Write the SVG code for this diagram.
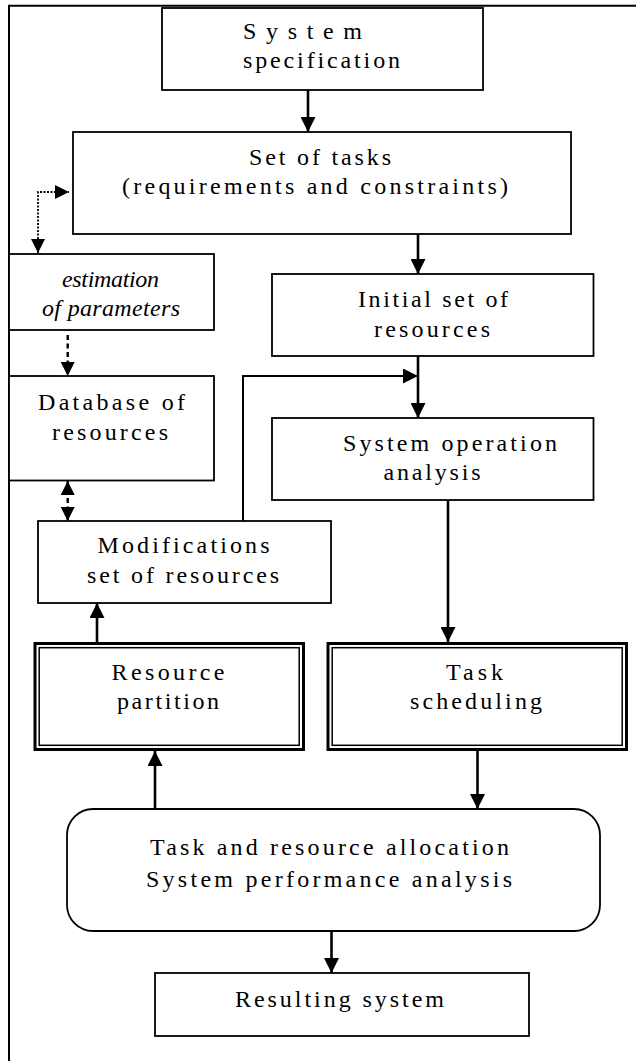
<svg xmlns="http://www.w3.org/2000/svg" width="636" height="1061" viewBox="0 0 636 1061">
<style>
  .box{fill:#fff;stroke:#000;stroke-width:1.8}
  .thick{fill:#fff;stroke:#000;stroke-width:3}
  .thin{fill:none;stroke:#000;stroke-width:1.5}
  .t{font-family:"Liberation Serif","Times New Roman",serif;font-size:24px;fill:#000}
  .i{font-style:italic}
  .c{fill:none;stroke:#000;stroke-width:2.6}
  .c2{fill:none;stroke:#000;stroke-width:2}
  .dot{fill:none;stroke:#000;stroke-width:1.8;stroke-dasharray:2 1.5}
  .dash{fill:none;stroke:#000;stroke-width:2.4;stroke-dasharray:5 3.5}
</style>
<defs>
  <marker id="ah" viewBox="0 0 10 10" refX="10" refY="5" markerUnits="userSpaceOnUse" markerWidth="15" markerHeight="15" orient="auto-start-reverse">
    <path d="M0,0 L10,5 L0,10 Z" fill="#000"/>
  </marker>
  <marker id="ahs" viewBox="0 0 10 10" refX="10" refY="5" markerUnits="userSpaceOnUse" markerWidth="14" markerHeight="19" orient="auto-start-reverse">
    <path d="M0,0 L10,5 L0,10 Z" fill="#000"/>
  </marker>
</defs>
<rect width="636" height="1061" fill="#fff"/>
<g id="frame">
  <line x1="8" y1="5.7" x2="636" y2="5.7" stroke="#000" stroke-width="2"/>
  <line x1="9" y1="5" x2="9" y2="1061" stroke="#000" stroke-width="2"/>
</g>
<g id="connectors">
  <line class="c" x1="308" y1="90" x2="308" y2="132" marker-end="url(#ah)"/>
  <line class="c" x1="418" y1="234" x2="418" y2="274" marker-end="url(#ah)"/>
  <line class="c" x1="418" y1="356" x2="418" y2="418" marker-end="url(#ah)"/>
  <polyline class="c2" points="243,521 243,376 418,376" marker-end="url(#ah)"/>
  <line class="c" x1="448" y1="500" x2="448" y2="642" marker-end="url(#ah)"/>
  <line class="c" x1="97" y1="642" x2="97" y2="603" marker-end="url(#ah)"/>
  <line class="c" x1="477.5" y1="751" x2="477.5" y2="809" marker-end="url(#ah)"/>
  <line class="c" x1="155" y1="809" x2="155" y2="751" marker-end="url(#ah)"/>
  <line class="c" x1="331.5" y1="931" x2="331.5" y2="973" marker-end="url(#ah)"/>
  <polyline class="dot" points="38,253 38,192 69,192" marker-start="url(#ahs)" marker-end="url(#ahs)"/>
  <line class="dash" x1="67.7" y1="335" x2="67.7" y2="376" marker-end="url(#ahs)"/>
  <line class="dash" x1="67.7" y1="481" x2="67.7" y2="521" marker-start="url(#ahs)" marker-end="url(#ahs)"/>
</g>
<g id="n-spec">
  <rect class="box" x="162" y="8" width="321" height="82"/>
  <text class="t" x="243" y="39" textLength="119" lengthAdjust="spacing">System</text>
  <text class="t" x="243" y="68" textLength="157" lengthAdjust="spacing">specification</text>
</g>
<g id="n-tasks">
  <rect class="box" x="73" y="132" width="498" height="102"/>
  <text class="t" x="249" y="165" textLength="142" lengthAdjust="spacing">Set of tasks</text>
  <text class="t" x="122" y="194" textLength="386" lengthAdjust="spacing">(requirements and constraints)</text>
</g>
<g id="n-estim">
  <rect class="box" x="9" y="254" width="205" height="76"/>
  <text class="t i" x="62" y="287" textLength="97" lengthAdjust="spacing">estimation</text>
  <text class="t i" x="42" y="316" textLength="138" lengthAdjust="spacing">of parameters</text>
</g>
<g id="n-initial">
  <rect class="box" x="272" y="274" width="321.5" height="82"/>
  <text class="t" x="358" y="307" textLength="150" lengthAdjust="spacing">Initial set of</text>
  <text class="t" x="374" y="337" textLength="116" lengthAdjust="spacing">resources</text>
</g>
<g id="n-db">
  <rect class="box" x="9" y="376" width="205" height="104.5"/>
  <text class="t" x="38" y="410" textLength="147" lengthAdjust="spacing">Database of</text>
  <text class="t" x="52" y="440" textLength="116" lengthAdjust="spacing">resources</text>
</g>
<g id="n-sysop">
  <rect class="box" x="272" y="418" width="321.5" height="82"/>
  <text class="t" x="343" y="451" textLength="214" lengthAdjust="spacing">System operation</text>
  <text class="t" x="383.5" y="480" textLength="97" lengthAdjust="spacing">analysis</text>
</g>
<g id="n-mod">
  <rect class="box" x="38" y="521" width="293" height="82"/>
  <text class="t" x="97.5" y="553" textLength="172" lengthAdjust="spacing">Modifications</text>
  <text class="t" x="87" y="583" textLength="192" lengthAdjust="spacing">set of resources</text>
</g>
<g id="n-partition">
  <rect class="thick" x="35" y="643.5" width="268.5" height="106"/>
  <rect class="thin" x="39.2" y="647.7" width="260" height="97.6"/>
  <text class="t" x="111.5" y="680" textLength="113" lengthAdjust="spacing">Resource</text>
  <text class="t" x="117" y="709" textLength="102" lengthAdjust="spacing">partition</text>
</g>
<g id="n-sched">
  <rect class="thick" x="328" y="643.5" width="298.5" height="106"/>
  <rect class="thin" x="332.2" y="647.7" width="290" height="97.6"/>
  <text class="t" x="446" y="680" textLength="57" lengthAdjust="spacing">Task</text>
  <text class="t" x="410" y="709" textLength="132" lengthAdjust="spacing">scheduling</text>
</g>
<g id="n-alloc">
  <rect class="box" x="67" y="809" width="533" height="122" rx="26" ry="26"/>
  <text class="t" x="150" y="855" textLength="359" lengthAdjust="spacing">Task and resource allocation</text>
  <text class="t" x="146" y="887" textLength="366" lengthAdjust="spacing">System performance analysis</text>
</g>
<g id="n-result">
  <rect class="box" x="155" y="973" width="374" height="63"/>
  <text class="t" x="235" y="1007" textLength="209" lengthAdjust="spacing">Resulting system</text>
</g>
</svg>
